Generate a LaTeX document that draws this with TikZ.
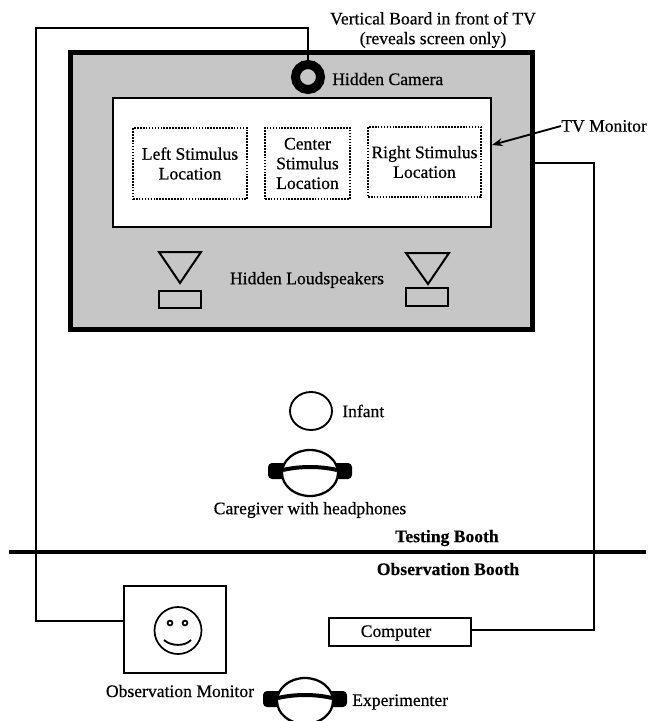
\documentclass[tikz,border=0pt]{standalone}
\usepackage{fontspec}
\setmainfont{Liberation Serif}[RawFeature={embolden=0.5}]
\usetikzlibrary{arrows.meta,shapes.geometric}
\definecolor{boardgray}{HTML}{C6C6C6}
\tikzset{
  lbl/.style={inner sep=0pt,align=center,font=\fontsize{13.2}{14.8}\selectfont},
  boldlbl/.style={lbl,font=\fontsize{13.2}{14.8}\selectfont\bfseries},
  wire/.style={line width=1.4pt},
  stimbox/.style={lbl,draw,line width=1.2pt,densely dotted},
  speaker/.style={line width=1.5pt},
  headset/.pic={
    \fill[rounded corners=3pt] (-42,-10) rectangle (42,6);
    \draw[fill=white,line width=1.7pt] (0,0) ellipse (28 and 23);
    \draw[line width=3pt] (-27,-3) .. controls (-10,-7) and (10,-7) .. (27,-3);
  }
}
\begin{document}
\begin{tikzpicture}[x=0.75pt,y=-0.75pt]
\path[use as bounding box,clip] (0,0) rectangle (648,721);
\node[draw,fill=boardgray,line width=3.9pt,minimum width=346.5pt,minimum height=207.75pt] (board) at (301.5,191) {};
\node[draw,fill=white,line width=1.6pt,minimum width=283.5pt,minimum height=96.75pt] (screen) at (302,162.5) {};
\node[circle,draw,fill=boardgray,line width=6.75pt,minimum size=18.75pt,inner sep=0pt] (camera) at (308,77) {};
\node[lbl] (toplabel) at (433,30) {Vertical Board in front of TV\\(reveals screen only)};
\node[lbl,anchor=west] (cameralabel) at (332,79) {Hidden Camera};
\node[stimbox,minimum width=85.5pt,minimum height=53.25pt] (leftstim) at (190,163.5) {Left Stimulus\\Location};
\node[stimbox,minimum width=63.75pt,minimum height=53.25pt] (centerstim) at (307.5,163.5) {Center\\Stimulus\\Location};
\node[stimbox,minimum width=84.75pt,minimum height=52.5pt] (rightstim) at (424.5,162) {Right Stimulus\\Location};
\node[lbl,anchor=west] (tvlabel) at (561,126) {TV Monitor};
\coordinate (tvtip) at (492,145);
\draw[line width=1.4pt,-{Stealth[length=8pt,width=6pt]}] (tvlabel.west) -- (tvtip);
\draw[speaker] (159,252) -- (201,252) -- (180,283) -- cycle;
\draw[speaker] (159,291) rectangle (201,308);
\draw[speaker] (406,253) -- (449,253) -- (428,284) -- cycle;
\draw[speaker] (406,288) rectangle (448,306);
\node[lbl] (speakerlabel) at (307,280) {Hidden Loudspeakers};
\node[ellipse,draw,line width=1.4pt,minimum width=31.5pt,minimum height=28.5pt,inner sep=0pt] (infant) at (311,411) {};
\node[lbl,anchor=west] (infantlabel) at (342,411) {Infant};
\path (310,473) pic {headset};
\node[lbl] (caregiverlabel) at (310,510) {Caregiver with headphones};
\coordinate (barleft) at (9,552);
\coordinate (barright) at (646,552);
\draw[line width=3.6pt] (barleft) -- (barright);
\node[boldlbl] (testinglabel) at (447,538) {Testing Booth};
\node[boldlbl] (observationlabel) at (448,569) {Observation Booth};
\node[draw,line width=1.4pt,minimum width=76.5pt,minimum height=65.25pt] (monitor) at (175,629.5) {};
\node[circle,draw,line width=1.3pt,minimum size=35.25pt,inner sep=0pt] (face) at (178,630.5) {};
\draw[line width=1.3pt] (170,623) circle (2.4);
\draw[line width=1.3pt] (185,623) circle (2.4);
\draw[line width=1.4pt] (164,640) .. controls (171,646.5) and (185,646.5) .. (191,640);
\node[lbl,draw,line width=1.4pt,minimum width=106.5pt,minimum height=21pt] (computer) at (400,632) {};
\node[lbl] (computerlabel) at (396,633) {Computer};
\node[lbl] (monitorlabel) at (180,691) {Observation Monitor};
\path (305,701) pic {headset};
\node[lbl,anchor=west] (experimenterlabel) at (352,702) {Experimenter};
\coordinate (wiretl) at (36,28);
\coordinate (wirebl) at (36,621);
\coordinate (wiretr) at (594,163);
\coordinate (wirebr) at (594,630);
\draw[wire] (camera.north) |- (wiretl) -- (wirebl) -- (wirebl -| monitor.west);
\draw[wire] (wiretr -| board.east) -- (wiretr) -- (wirebr) -- (wirebr -| computer.east);
\end{tikzpicture}
\end{document}
